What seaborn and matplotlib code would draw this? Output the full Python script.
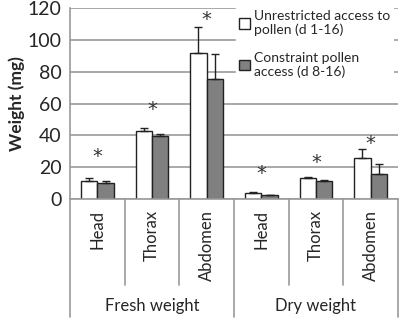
import matplotlib
matplotlib.use("Agg")
import matplotlib.pyplot as plt
import matplotlib.transforms as mtransforms
import numpy as np
import pandas as pd
import seaborn as sns

parts = ["Head", "Thorax", "Abdomen", "Head", "Thorax", "Abdomen"]
groups = ["Fresh weight", "Dry weight"]
treatments = ["Unrestricted access to\npollen (d 1-16)", "Constraint pollen\naccess (d 8-16)"]

unrestricted = [11.5, 42.5, 91.5, 3.5, 13.2, 25.5]
unrestricted_err = [1.5, 2.0, 16.5, 0.8, 0.8, 6.0]
constraint = [9.8, 39.5, 75.5, 2.3, 11.3, 15.5]
constraint_err = [1.3, 1.5, 15.5, 0.5, 0.6, 6.5]
star_y = [27, 56, 113, 16, 23, 35]

keys = [f"{g}-{p}" for g in groups for p in parts[:3]]
df = pd.DataFrame({
    "key": keys * 2,
    "treatment": [treatments[0]] * 6 + [treatments[1]] * 6,
    "weight": unrestricted + constraint,
    "err": unrestricted_err + constraint_err,
})

sns.set_style("white")
plt.rcParams["font.family"] = ["Lato", "DejaVu Sans"]

fig = plt.figure(figsize=(4, 3.23), dpi=100)
ax = fig.add_axes([0.175, 0.384, 0.82, 0.591])

ax.yaxis.grid(True, color="#9a9a9a", linewidth=1.2, zorder=0)
ax.set_axisbelow(True)

sns.barplot(data=df, x="key", y="weight", hue="treatment", order=keys,
            hue_order=treatments, palette=["white", "#808080"],
            edgecolor="#222222", linewidth=1.0, width=0.6,
            errorbar=None, ax=ax, zorder=2)

# one-sided error bars on top of each bar
for container, t in zip(ax.containers, treatments):
    sub = df[df["treatment"] == t].set_index("key").loc[keys]
    xs = [p.get_x() + p.get_width() / 2 for p in container.patches]
    ax.errorbar(xs, sub["weight"], yerr=[np.zeros(len(xs)), sub["err"]],
                fmt="none", ecolor="#222222", elinewidth=1.0, capsize=3, zorder=3)

for i, y in enumerate(star_y):
    ax.text(i, y, "*", ha="center", va="center", fontsize=14,
            family="DejaVu Sans", color="#333333")

ax.set_ylim(0, 120)
ax.set_yticks(range(0, 121, 20))
ax.set_xlim(-0.5, 5.5)
ax.set_xticks(range(6))
ax.set_xticklabels(parts, rotation=90, fontsize=12)
ax.tick_params(axis="x", length=0, pad=8)
ax.tick_params(axis="y", length=0, labelsize=14, pad=6)
ax.set_xlabel("")
ax.set_ylabel("Weight (mg)", fontsize=12.5, fontweight="bold", labelpad=2)

for side in ["top", "right"]:
    ax.spines[side].set_visible(False)
for side in ["left", "bottom"]:
    ax.spines[side].set_color("#9a9a9a")
    ax.spines[side].set_linewidth(1.2)

# category separators below the axis
trans = mtransforms.blended_transform_factory(ax.transData, ax.transAxes)
for xb in np.arange(-0.5, 6, 1):
    lo = -0.62 if xb in (-0.5, 2.5, 5.5) else -0.45
    ax.plot([xb, xb], [0, lo], color="#9a9a9a", linewidth=1.2,
            transform=trans, clip_on=False)
for gi, g in enumerate(groups):
    ax.text(1 + 3 * gi, -0.56, g, transform=trans, ha="center", va="center",
            fontsize=12)

leg = ax.legend(loc="upper right", bbox_to_anchor=(1.0, 1.0),
                bbox_transform=fig.transFigure, frameon=True,
                fontsize=10, handlelength=0.8, handleheight=0.8,
                handletextpad=0.3, labelspacing=1.1, borderpad=0.2)
leg.get_frame().set_edgecolor("white")
leg.get_frame().set_facecolor("white")
leg.get_frame().set_alpha(1)
leg.get_frame().set_boxstyle("square", pad=0)

fig.savefig("out.png", dpi=100)
